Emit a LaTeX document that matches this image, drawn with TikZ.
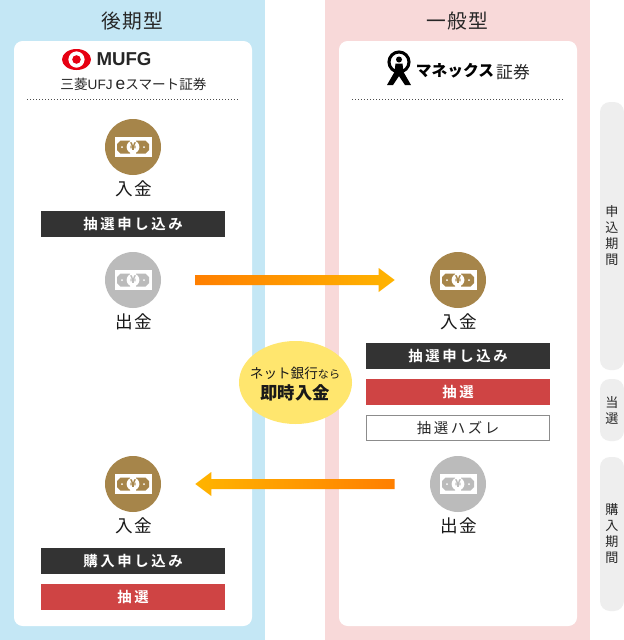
\documentclass[tikz,border=0pt]{standalone}
\usepackage{fontspec}
\setmainfont{Noto Sans CJK JP}
\newfontfamily\jpsp[LetterSpace=5]{Noto Sans CJK JP}
\newfontfamily\jpbar[LetterSpace=18,BoldFont={Noto Sans CJK JP Bold}]{Noto Sans CJK JP}
\newfontfamily\latinb{Liberation Sans}
\usetikzlibrary{calc}
\definecolor{bandblue}{HTML}{C4E7F5}
\definecolor{bandpink}{HTML}{F8D9D9}
\definecolor{gold}{HTML}{A6854A}
\definecolor{silver}{HTML}{BBBBBB}
\definecolor{dark}{HTML}{333333}
\definecolor{redbar}{HTML}{CF4444}
\definecolor{tabgray}{HTML}{EEEEEE}
\definecolor{bubble}{HTML}{FFE66E}
\definecolor{mufgred}{HTML}{E60012}
\definecolor{arrowA}{HTML}{FF7F00}
\definecolor{arrowB}{HTML}{FFB400}
\tikzset{
  card/.style={fill=white,rounded corners=6.5pt},
  coin/.style={circle,draw=none,minimum size=42pt,inner sep=0pt},
  bar/.style={minimum width=138pt,minimum height=19.5pt,inner sep=0pt,text=white,font=\fontsize{10.8pt}{12pt}\jpbar\bfseries},
  darkbar/.style={bar,fill=dark},
  redbarb/.style={bar,fill=redbar},
  whitebar/.style={bar,fill=white,draw=black!45,line width=.6pt,minimum width=137.4pt,minimum height=18.9pt,text=black!85,font=\fontsize{10.8pt}{12pt}\jpbar},
  coinlabel/.style={font=\fontsize{13.2pt}{14pt}\jpsp,text=black!90},
  head/.style={font=\fontsize{14.8pt}{16pt}\jpsp,text=black!85},
  tabbox/.style={fill=tabgray,rounded corners=7.5pt},
  tabtext/.style={font=\fontsize{9.8pt}{12pt}\selectfont,align=center,text=black!85,inner sep=0pt},
  dots/.style={line width=.6pt,black!70,dash pattern=on .75pt off 1.5pt},
  money/.pic={
    \fill[white] (-18.5,-10) rectangle (18.5,10);
    \fill[pic actions] (-16,-3) -- (-12.5,-6.5) -- (-3,-6.5) -- (-3,6.5) -- (-12.5,6.5) -- (-16,3) -- cycle;
    \fill[pic actions] (16,-3) -- (12.5,-6.5) -- (3,-6.5) -- (3,6.5) -- (12.5,6.5) -- (16,3) -- cycle;
    \fill[white] (0,0) circle (6.4);
    \fill[white] (-11,0) circle (1);
    \fill[white] (11,0) circle (1);
    \node[inner sep=0pt,font=\fontsize{8pt}{9pt}\selectfont\bfseries,pic actions] at (0,0) {¥};
  }
}
\begin{document}
\begin{tikzpicture}[x=0.75pt,y=-0.75pt]
\useasboundingbox (0,0) rectangle (624,640);
\fill[white] (0,0) rectangle (624,640);
\fill[bandblue] (0,0) rectangle (265,640);
\fill[bandpink] (325,0) rectangle (590,640);
\fill[card] (14,41) rectangle (252,626);
\fill[card] (339,41) rectangle (577,626);
\node[head] (h1) at (132.5,21) {後期型};
\node[head] (h2) at (457.5,21) {一般型};
% MUFG logo
\fill[mufgred,even odd rule] (76.5,59.5) ellipse (14.5 and 10.5) (76.5,59.5) circle (8.2);
\fill[mufgred] (76.5,59.5) circle (4.3);
\node[inner sep=0pt,font=\fontsize{14pt}{15pt}\latinb\bfseries,text=black!85] (mufg) at (124,59.5) {MUFG};
\node[inner sep=0pt,font=\fontsize{10.2pt}{12pt}\selectfont,text=black!85] (mufgsub) at (133.5,84) {三菱{\latinb UFJ} {\latinb\fontsize{13pt}{12pt}\selectfont e}スマート証券};
\draw[dots] (27,99.5) -- (239,99.5);
% Monex logo
\draw[black,line width=2.3pt] (399,62) circle (10);
\fill[black] (399,59.5) circle (3);
\fill[black] (395.5,63.5) -- (402.5,63.5) -- (403.5,72) -- (411,85) -- (405,85) -- (399,76) -- (393,85) -- (387,85) -- (394.5,72) -- cycle;
\node[inner sep=0pt,font=\fontsize{11.8pt}{15pt}\selectfont\bfseries,text=black] (mnx) at (455,71) {マネックス};
\node[inner sep=0pt,font=\fontsize{12.6pt}{15pt}\selectfont,text=black!85] (mnx2) at (513,72) {証券};
\draw[dots] (352,99.5) -- (564,99.5);
% coins
\node[coin,fill=gold] (c1) at (133,147) {};
\pic[gold] at (c1.center) {money};
\node[coinlabel] (l1) at (134,189) {入金};
\node[darkbar] (b1) at (133,224) {抽選申し込み};
\node[coin,fill=silver] (c2) at (133,280) {};
\pic[silver] at (c2.center) {money};
\node[coinlabel] (l2) at (134,322) {出金};
\node[coin,fill=gold] (c3) at (133,484) {};
\pic[gold] at (c3.center) {money};
\node[coinlabel] (l3) at (134,526) {入金};
\node[darkbar] (b2) at (133,561) {購入申し込み};
\node[redbarb] (b3) at (133,597) {抽選};
\node[coin,fill=gold] (c4) at (458,280) {};
\pic[gold] at (c4.center) {money};
\node[coinlabel] (l4) at (459,322) {入金};
\node[darkbar] (b4) at (458,356) {抽選申し込み};
\node[redbarb] (b5) at (458,392) {抽選};
\node[whitebar] (b6) at (458,428) {抽選ハズレ};
\node[coin,fill=silver] (c5) at (458,484) {};
\pic[silver] at (c5.center) {money};
\node[coinlabel] (l5) at (459,526) {出金};
% arrows
\coordinate (a1) at ($(c2.east)+(34,0)$);
\coordinate (a2) at ($(c4.west)+(-35,0)$);
\shade[left color=arrowA,right color=arrowB]
  ($(a1)+(0,-5)$) -- ($(a2)+(-16,-5)$) -- ($(a2)+(-16,-12)$) -- (a2) -- ($(a2)+(-16,12)$) -- ($(a2)+(-16,5)$) -- ($(a1)+(0,5)$) -- cycle;
\coordinate (a3) at ($(c5.west)+(-35,0)$);
\coordinate (a4) at ($(c3.east)+(34,0)$);
\shade[left color=arrowB,right color=arrowA]
  ($(a3)+(0,-5)$) -- ($(a4)+(16,-5)$) -- ($(a4)+(16,-12)$) -- (a4) -- ($(a4)+(16,12)$) -- ($(a4)+(16,5)$) -- ($(a3)+(0,5)$) -- cycle;
% bubble
\fill[bubble] (295.5,382.5) ellipse (56.5 and 41.5);
\node[inner sep=0pt,text=black!90,font=\fontsize{10.2pt}{12pt}\selectfont] (bt1) at (295,373) {ネット銀行{\fontsize{8.3pt}{10pt}\selectfont なら}};
\node[inner sep=0pt,text=black!90,font=\fontsize{13pt}{15pt}\selectfont\bfseries] (bt2) at (295,393) {即時入金};
% tabs
\fill[tabbox] (600,102) rectangle (624,370);
\fill[tabbox] (600,379) rectangle (624,441);
\fill[tabbox] (600,457) rectangle (624,611);
\node[tabtext] (t1) at (612,236) {申\\込\\期\\間};
\node[tabtext] (t2) at (612,410) {当\\選};
\node[tabtext] (t3) at (612,533.5) {購\\入\\期\\間};
\end{tikzpicture}
\end{document}
